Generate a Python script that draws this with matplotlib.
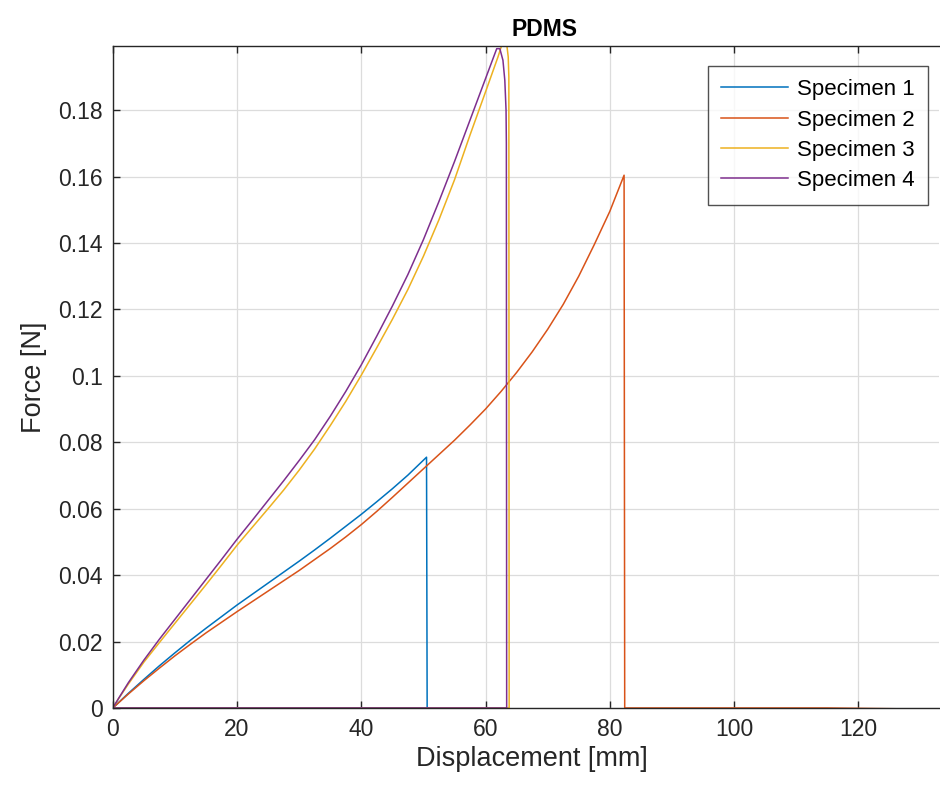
import numpy as np
import matplotlib.pyplot as plt
from matplotlib.ticker import FixedLocator

plt.rcParams['font.family'] = ['Liberation Sans', 'DejaVu Sans']

# displacement [mm] / force [N]
s1_x = [0, 2.5, 5, 7.5, 10, 12.5, 15, 17.5, 20, 22.5, 25, 27.5, 30, 32.5, 35, 37.5, 40,
        42.5, 45, 47.5, 50.5, 50.6, 0]
s1_y = [0, 0.0044, 0.0086, 0.0127, 0.0166, 0.0204, 0.0240, 0.0275, 0.0310, 0.0343, 0.0376,
        0.0409, 0.0442, 0.0476, 0.0511, 0.0547, 0.0583, 0.0621, 0.0660, 0.0701, 0.0755, 0, 0]

s2_x = [0, 2.5, 5, 7.5, 10, 12.5, 15, 17.5, 20, 22.5, 25, 27.5, 30, 32.5, 35, 37.5, 40,
        42.5, 45, 47.5, 50, 52.5, 55, 57.5, 60, 62.5, 65, 67.5, 70, 72.5, 75, 77.5, 80, 82.3,
        82.4, 115, 133.5]
s2_y = [0, 0.0042, 0.0082, 0.0120, 0.0157, 0.0192, 0.0226, 0.0258, 0.0290, 0.0321, 0.0352,
        0.0383, 0.0414, 0.0447, 0.0480, 0.0515, 0.0552, 0.0592, 0.0634, 0.0677, 0.0720, 0.0763,
        0.0806, 0.0852, 0.0900, 0.0953, 0.1010, 0.1072, 0.1140, 0.1215, 0.1300, 0.1395, 0.1495,
        0.1604, 0, 0, -0.0004]

s3_x = [0, 1, 2.5, 5, 7.5, 10, 12.5, 15, 17.5, 20, 22.5, 25, 27.5, 30, 32.5, 35, 37.5, 40,
        42.5, 45, 47.5, 50, 52.5, 55, 57.5, 60, 62, 62.6, 63.0, 63.4, 63.65, 63.75, 63.8, 0]
s3_y = [0, 0.0030, 0.0072, 0.0138, 0.0197, 0.0255, 0.0313, 0.0371, 0.0430, 0.0490, 0.0545,
        0.0600, 0.0656, 0.0716, 0.0780, 0.0850, 0.0923, 0.1002, 0.1085, 0.1170, 0.1260, 0.1360,
        0.1470, 0.1590, 0.1725, 0.1855, 0.1960, 0.1995, 0.2005, 0.2000, 0.1960, 0.1900, 0, 0]

s4_x = [0, 1, 2.5, 5, 7.5, 10, 12.5, 15, 17.5, 20, 22.5, 25, 27.5, 30, 32.5, 35, 37.5, 40,
        42.5, 45, 47.5, 50, 52.5, 55, 57.5, 60, 61.2, 61.8, 62.3, 62.8, 63.1, 63.3, 63.35, 63.4, 0]
s4_y = [0, 0.0031, 0.0076, 0.0144, 0.0207, 0.0267, 0.0327, 0.0387, 0.0447, 0.0508, 0.0566,
        0.0625, 0.0684, 0.0745, 0.0808, 0.0878, 0.0953, 0.1033, 0.1120, 0.1210, 0.1305, 0.1410,
        0.1525, 0.1645, 0.1770, 0.1895, 0.1955, 0.1985, 0.1985, 0.1950, 0.1890, 0.1800, 0.1700,
        0, 0]

labels = ['Specimen 1', 'Specimen 2', 'Specimen 3', 'Specimen 4']
colors = ['#0072BD', '#D95319', '#EDB120', '#7E2F8E']

yticks = [0, 0.02, 0.04, 0.06, 0.08, 0.1, 0.12, 0.14, 0.16, 0.18]
ytick_labels = ['0', '0.02', '0.04', '0.06', '0.08', '0.1', '0.12', '0.14', '0.16', '0.18']
xticks = [0, 20, 40, 60, 80, 100, 120]

fig = plt.figure(figsize=(9.4, 7.89), dpi=100)
ax = fig.add_axes([0.120, 0.1027, 0.879, 0.839])

for x, y, lab, c in zip([s1_x, s2_x, s3_x, s4_x], [s1_y, s2_y, s3_y, s4_y], labels, colors):
    ax.plot(x, y, color=c, lw=1.1, label=lab)

ax.set_xlim(0, 133)
ax.set_ylim(0, 0.1993)
ax.xaxis.set_major_locator(FixedLocator(xticks))
ax.set_yticks(yticks)
ax.set_yticklabels(ytick_labels)

ax.grid(True, color='#dcdcdc', lw=0.9)
ax.set_axisbelow(True)
ax.tick_params(direction='in', length=5, width=1, colors='#262626', labelsize=16.5, top=True, pad=7)
for side in ['left', 'bottom', 'top']:
    ax.spines[side].set_color('#262626')
    ax.spines[side].set_linewidth(1.0)
ax.spines['right'].set_visible(False)

# the original axes run past the right edge of the image, so the title sits right of centre
ax.set_title('PDMS', fontsize=16.5, fontweight='bold', color='black', pad=7, x=0.522)
ax.set_xlabel('Displacement [mm]', fontsize=19.5, color='#262626', labelpad=5)
ax.xaxis.set_label_coords(0.507, -0.058)
ax.set_ylabel('Force [N]', fontsize=19.5, color='#262626', labelpad=8)

leg = ax.legend(loc='upper right', bbox_to_anchor=(0.9865, 0.97), fontsize=16, frameon=True,
                fancybox=False, edgecolor='#262626', handlelength=3.0, borderpad=0.6,
                labelspacing=0.42, handletextpad=0.4, borderaxespad=0)
leg.get_frame().set_linewidth(1.0)

fig.savefig('out.png', dpi=100)
